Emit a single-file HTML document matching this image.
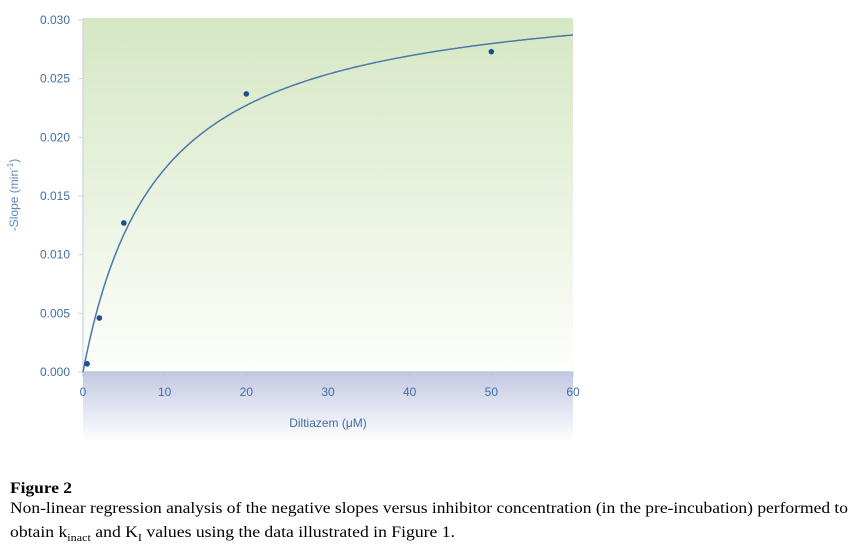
<!DOCTYPE html>
<html><head><meta charset="utf-8"><style>
body{margin:0;background:#fff;width:858px;height:559px;overflow:hidden}
svg{display:block}
</style></head><body>
<svg id="chart" width="858" height="559" font-family="Liberation Sans, sans-serif">
<defs>
<linearGradient id="gp" x1="0" y1="0" x2="0" y2="1"><stop offset="0" stop-color="#d5e7c3"/><stop offset="1" stop-color="#fdfefb"/></linearGradient>
<linearGradient id="gb" x1="0" y1="0" x2="0" y2="1"><stop offset="0" stop-color="#c3c8e2"/><stop offset="1" stop-color="#ffffff"/></linearGradient>
</defs>
<rect x="83" y="18" width="490" height="354" fill="url(#gp)"/>
<rect x="83" y="372" width="490" height="70" fill="url(#gb)"/>
<line x1="83" y1="18" x2="83" y2="373" stroke="#c8d4e4" stroke-width="1.2"/>
<line x1="83" y1="372" x2="573" y2="372" stroke="#b8c2dc" stroke-width="1.2"/>
<g id="yt" fill="#3f6ea8" font-size="12" text-anchor="end"></g>
<g id="xt" fill="#3f6ea8" font-size="12" text-anchor="middle"></g>
<text x="18" y="195" transform="rotate(-90 18 195)" fill="#5b88c0" font-size="12" text-anchor="middle">-Slope (min<tspan font-size="8" dy="-5">-1</tspan><tspan dy="5">)</tspan></text>
<text x="328" y="427" fill="#3f6ea8" font-size="12" text-anchor="middle">Diltiazem (μM)</text>
<path id="fit" fill="none" stroke="#4a78ac" stroke-width="1.5"/>
<g id="pts" fill="#1a4f92"></g>
<g font-family="Liberation Serif, serif" fill="#000">
<text x="10" y="493" font-size="16" font-weight="bold" textLength="62" lengthAdjust="spacingAndGlyphs">Figure 2</text>
<text x="10" y="513" font-size="16" textLength="838" lengthAdjust="spacingAndGlyphs">Non-linear regression analysis of the negative slopes versus inhibitor concentration (in the pre-incubation) performed to</text>
<text x="10" y="537" font-size="16" textLength="445" lengthAdjust="spacingAndGlyphs">obtain k<tspan font-size="11" dy="4">inact</tspan><tspan dy="-4"> and K</tspan><tspan font-size="11" dy="4">I</tspan><tspan dy="-4"> values using the data illustrated in Figure 1.</tspan></text>
</g>
</svg>
<script>
const xTicks=[0,10,20,30,40,50,60];
const yTicks=[0,0.005,0.010,0.015,0.020,0.025,0.030];
const concX=[0.5,2,5,20,50];
const slopeY=[0.0007,0.0046,0.0127,0.0237,0.0273];
const fitKmax=[0.0331];
const fitKi=[9.13];
const X=v=>83+v/60*490, Y=v=>372-v/0.03*352;
const NS='http://www.w3.org/2000/svg';
const yt=document.getElementById('yt'), xt=document.getElementById('xt');
yTicks.forEach(v=>{
 const t=document.createElementNS(NS,'text');t.setAttribute('x',70);t.setAttribute('y',Y(v)+4);t.textContent=v.toFixed(3);
 
 
 yt.appendChild(t);
 const l=document.createElementNS(NS,'line');l.setAttribute('x1',78);l.setAttribute('x2',83);l.setAttribute('y1',Y(v));l.setAttribute('y2',Y(v));l.setAttribute('stroke','#c8d4e4');
 
 
 yt.appendChild(l);
});
xTicks.forEach(v=>{
 const t=document.createElementNS(NS,'text');t.setAttribute('x',X(v));t.setAttribute('y',396);t.textContent=v;
 
 
 xt.appendChild(t);
 const l=document.createElementNS(NS,'line');l.setAttribute('x1',X(v));l.setAttribute('x2',X(v));l.setAttribute('y1',372);l.setAttribute('y2',377);l.setAttribute('stroke','#b8c2dc');
 
 
 xt.appendChild(l);
});
let d='';
for(let i=0;i<=300;i++){const x=i/300*60;const y=fitKmax[0]*x/(fitKi[0]+x);d+=(i?'L':'M')+X(x).toFixed(1)+','+Y(y).toFixed(1);}
document.getElementById('fit').setAttribute('d',d);
const pts=document.getElementById('pts');
concX.forEach((c,i)=>{
 const p=document.createElementNS(NS,'circle');p.setAttribute('cx',X(c));p.setAttribute('cy',Y(slopeY[i]));p.setAttribute('r',2.8);
 
 
 pts.appendChild(p);
});
</script>
</body></html>
